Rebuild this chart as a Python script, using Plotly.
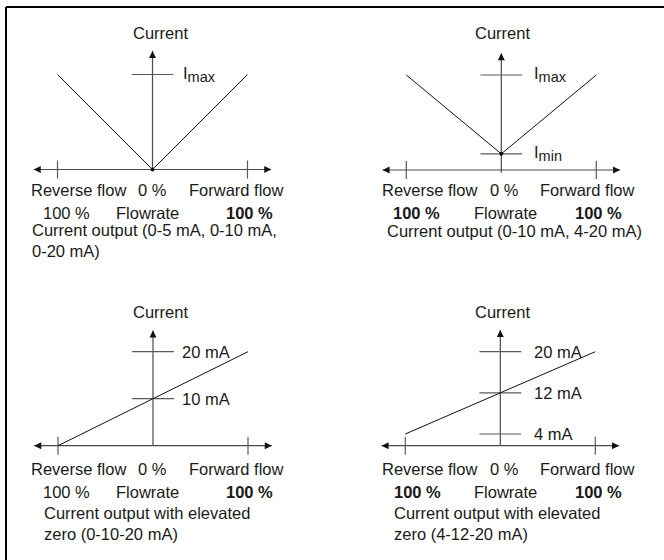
import plotly.graph_objects as go

W, H = 664, 560

# ---------------- data ----------------
flow_v = [-100, 0, 100]                 # % flow (reverse negative)
p1_current = [1.0, 0.0, 1.0]            # relative to I_max
p2_current = [1.0, 0.17, 1.0]           # relative to I_max, I_min ~0.17
p3_flow = [-100, 100]
p3_current_mA = [0, 20]
p4_flow = [-100, 100]
p4_current_mA = [4, 20]

SUB = "<sub><span style='font-size:14.5px'>{}</span></sub>"
p1_levels = [1.0]
p1_level_labels = ["I" + SUB.format("max")]
p2_levels = [1.0, 0.17]
p2_level_labels = ["I" + SUB.format("max"), "I" + SUB.format("min")]
p3_levels = [20, 10]
p3_level_labels = ["20 mA", "10 mA"]
p4_levels = [20, 12, 4]
p4_level_labels = ["20 mA", "12 mA", "4 mA"]

flow_ticks = [-100, 100]
axis_title = "Current"
row1_labels = ["Reverse flow", "0 %", "Forward flow"]
row2_labels_plain = ["100 %", "Flowrate", "<b>100 %</b>"]
row2_labels_bold = ["<b>100 %</b>", "Flowrate", "<b>100 %</b>"]
caption1 = ["Current output (0-5 mA, 0-10 mA,", "0-20 mA)"]
caption2 = ["Current output (0-10 mA, 4-20 mA)"]
caption3 = ["Current output with elevated", "zero (0-10-20 mA)"]
caption4 = ["Current output with elevated", "zero (4-12-20 mA)"]

# ---------------- layout constants ----------------
FONT = "Liberation Sans, Arial, Helvetica, sans-serif"
FS = 16.5
XS = 0.95            # px per % flow
XR = 140             # half x-range in %
AXIS_COL = "#4a4a4a"
TICK_COL = "#5a5a5a"
LINE_COL = "#111111"
TXT_COL = "#1a1a1a"

panels = [
    dict(cx=152.5, p0=169.5, v0=0.0, s=95.0, dom=(25, 262), base=0.0, top=1.247,
         vbottom=0.0, x=flow_v, y=p1_current, lv=p1_levels, ll=p1_level_labels,
         lshift=28, dot=True, title=(160, 33),
         rows=[190, 213], row_x=[78.5, 152.5, 236.5], row2_x=[66.5, 147, 249.5],
         row2=row2_labels_plain, cap=caption1, cap_x=30, cap_y=240.5),
    dict(cx=501.3, p0=170.0, v0=0.0, s=95.0, dom=(25, 262), base=0.0, top=1.23,
         vbottom=-0.03, x=flow_v, y=p2_current, lv=p2_levels, ll=p2_level_labels,
         lshift=31, dot=True, title=(502, 33),
         rows=[190, 213], row_x=[429, 504.3, 587.5], row2_x=[416.8, 505, 598.5],
         row2=row2_labels_bold, cap=caption2, cap_x=385, cap_y=231),
    dict(cx=153.0, p0=445.7, v0=0.0, s=4.7, dom=(300, 545), base=0.0, top=24.5,
         vbottom=0.0, x=p3_flow, y=p3_current_mA, lv=p3_levels, ll=p3_level_labels,
         lshift=27, dot=False, title=(160, 312),
         rows=[469, 492.3], row_x=[78.5, 152.5, 236.7], row2_x=[66.5, 147, 249.5],
         row2=row2_labels_plain, cap=caption3, cap_x=42, cap_y=523.5),
    dict(cx=500.3, p0=434.0, v0=4.0, s=5.144, dom=(300, 545), base=1.73, top=24.2,
         vbottom=1.73, x=p4_flow, y=p4_current_mA, lv=p4_levels, ll=p4_level_labels,
         lshift=32, dot=False, title=(502, 312),
         rows=[469, 492], row_x=[429.5, 504.5, 587.5], row2_x=[417, 505, 598.5],
         row2=row2_labels_bold, cap=caption4, cap_x=392, cap_y=523),
]

fig = go.Figure()
annotations = []


def px_x(p):
    return p / W


def px_y(p):
    return 1 - p / H


def txt(**kw):
    d = dict(showarrow=False, font=dict(family=FONT, size=FS, color=TXT_COL))
    d.update(kw)
    return d


for i, P in enumerate(panels, start=1):
    xa = "x" if i == 1 else f"x{i}"
    ya = "y" if i == 1 else f"y{i}"
    x_dom = [px_x(P["cx"] - XR * XS), px_x(P["cx"] + XR * XS)]
    top_px, bot_px = P["dom"]
    y_rng = [P["v0"] + (P["p0"] - bot_px) / P["s"], P["v0"] + (P["p0"] - top_px) / P["s"]]
    fig.layout[f"xaxis{'' if i == 1 else i}"] = dict(
        domain=x_dom, range=[-XR, XR], visible=False, fixedrange=True)
    fig.layout[f"yaxis{'' if i == 1 else i}"] = dict(
        domain=[px_y(bot_px), px_y(top_px)], range=y_rng, visible=False, fixedrange=True)

    ext = 125  # horizontal axis arrows extent in %
    base = P["base"]
    dy_tick = 9 / P["s"]
    common = dict(xaxis=xa, yaxis=ya, hoverinfo="skip", showlegend=False)
    # horizontal axis
    fig.add_trace(go.Scatter(x=[-ext, ext], y=[base, base], mode="lines",
                             line=dict(color=AXIS_COL, width=1.2), **common))
    fig.add_trace(go.Scatter(x=[-ext, ext], y=[base, base], mode="markers",
                             marker=dict(symbol=["arrow-left", "arrow-right"], size=7,
                                         color="#111"), **common))
    # ticks at +-100 %
    for ft in flow_ticks:
        fig.add_trace(go.Scatter(x=[ft, ft], y=[base + dy_tick, base - dy_tick], mode="lines",
                                 line=dict(color=TICK_COL, width=1.2), **common))
    # vertical axis
    fig.add_trace(go.Scatter(x=[0, 0], y=[P["vbottom"], P["top"]], mode="lines",
                             line=dict(color=AXIS_COL, width=1.2), **common))
    fig.add_trace(go.Scatter(x=[0], y=[P["top"]], mode="markers",
                             marker=dict(symbol="arrow-up", size=7, color="#111"), **common))
    # level ticks with labels
    for lv, lab in zip(P["lv"], P["ll"]):
        fig.add_trace(go.Scatter(x=[-22, 22], y=[lv, lv], mode="lines",
                                 line=dict(color=TICK_COL, width=1.2), **common))
        annotations.append(txt(x=0, y=lv, xref=xa, yref=ya, text=lab,
                               xanchor="left", yanchor="middle", xshift=P["lshift"]))
    # characteristic line
    fig.add_trace(go.Scatter(x=P["x"], y=P["y"], mode="lines",
                             line=dict(color=LINE_COL, width=1), **common))
    if P["dot"]:
        k = P["y"].index(min(P["y"]))
        fig.add_trace(go.Scatter(x=[P["x"][k]], y=[P["y"][k]], mode="markers",
                                 marker=dict(size=4, color="#111"), **common))

    # texts
    tx, ty = P["title"]
    annotations.append(txt(x=px_x(tx), y=px_y(ty), xref="paper", yref="paper",
                           text=axis_title, xanchor="center", yanchor="middle"))
    for lab, x in zip(row1_labels, P["row_x"]):
        annotations.append(txt(x=px_x(x), y=px_y(P["rows"][0]), xref="paper", yref="paper",
                               text=lab, xanchor="center", yanchor="middle"))
    for lab, x in zip(P["row2"], P["row2_x"]):
        annotations.append(txt(x=px_x(x), y=px_y(P["rows"][1]), xref="paper", yref="paper",
                               text=lab, xanchor="center", yanchor="middle"))
    annotations.append(txt(x=px_x(P["cap_x"]), y=px_y(P["cap_y"]), xref="paper", yref="paper",
                           text="<br>".join(P["cap"]), align="left",
                           xanchor="left", yanchor="middle"))

shapes = [
    dict(type="line", xref="paper", yref="paper", x0=px_x(6), x1=1, y0=px_y(7), y1=px_y(7),
         line=dict(color="black", width=2)),
    dict(type="line", xref="paper", yref="paper", x0=px_x(6), x1=px_x(6), y0=px_y(7), y1=0,
         line=dict(color="black", width=2)),
]

fig.update_layout(width=W, height=H, margin=dict(l=0, r=0, t=0, b=0),
                  paper_bgcolor="white", plot_bgcolor="white",
                  annotations=annotations, shapes=shapes, showlegend=False)

fig.write_html("out.html", config={"displayModeBar": False},
               post_script="document.body.style.margin='0';")
